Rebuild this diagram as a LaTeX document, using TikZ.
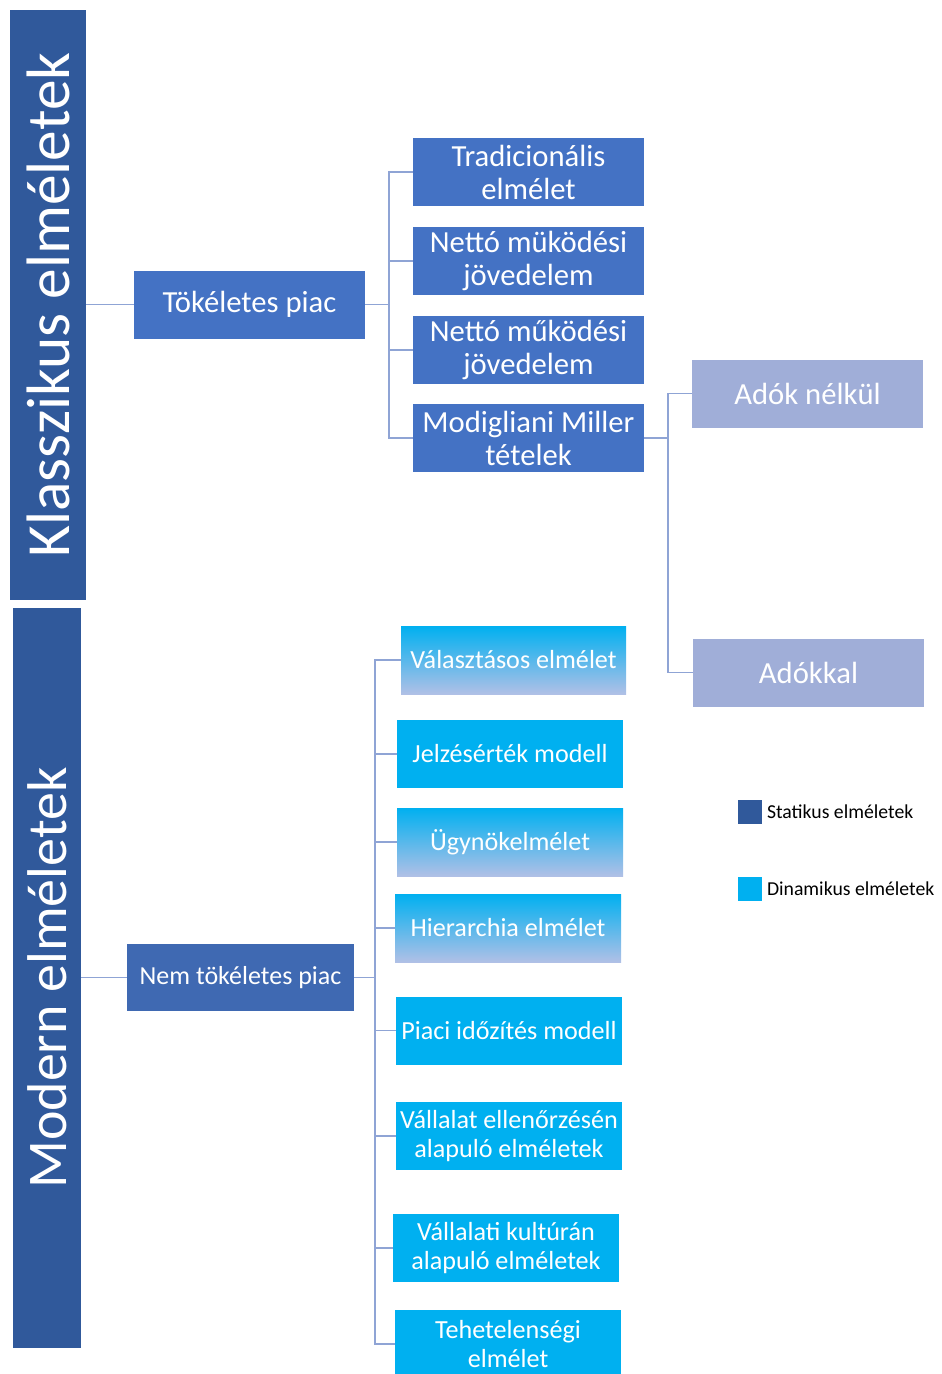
\documentclass[tikz,border=0pt]{standalone}
\usepackage{fontspec}
\setmainfont{Carlito}
\usetikzlibrary{positioning}
\definecolor{barblue}{HTML}{30599B}
\definecolor{statblue}{HTML}{4472C4}
\definecolor{nemblue}{HTML}{3F69B2}
\definecolor{adoblue}{HTML}{A0AED8}
\definecolor{dyncyan}{HTML}{00B0F0}
\definecolor{dynmid}{HTML}{6CC4EE}
\definecolor{dynlav}{HTML}{B0C0E6}
\definecolor{linkblue}{HTML}{8FA4D5}
\begin{document}
\begin{tikzpicture}[x=0.75pt,y=-0.75pt,
    every node/.style={inner sep=0pt, outer sep=0pt},
    bar/.style={fill=barblue, text=white, rotate=90, font=\fontsize{46}{50}\selectfont},
    statbox/.style={fill=statblue, text=white, align=center, minimum width=173.25pt,
      minimum height=51pt, font=\fontsize{23}{24.75}\selectfont},
    adobox/.style={statbox, fill=adoblue},
    dynbox/.style={fill=dyncyan, text=white, align=center, minimum width=169.5pt,
      minimum height=51pt, font=\fontsize{19.6}{22}\selectfont},
    fadebox/.style={dynbox, top color=dyncyan, middle color=dynmid, bottom color=dynlav},
    link/.style={draw=linkblue, line width=1.1pt},
    legsq/.style={minimum width=18pt, minimum height=18pt},
    legtext/.style={font=\fontsize{14.8}{16}\selectfont}]
  \useasboundingbox (0,0) rectangle (942,1374);

  % left bars
  \node[bar, minimum width=442.5pt, minimum height=57pt] (klassz) at (48,305) {Klasszikus elméletek};
  \node[bar, minimum width=555pt, minimum height=51pt, font=\fontsize{42}{46}\selectfont] (modern) at (47,978) {Modern elméletek};

  % static theories
  \node[statbox] (tok) at (249.5,304.5) {Tökéletes piac};
  \node[statbox] (trad) at (528.5,172) {Tradicionális\\elmélet};
  \node[statbox] (netto1) at (528.5,261) {Nettó müködési\\jövedelem};
  \node[statbox] (netto2) at (528.5,350) {Nettó működési\\jövedelem};
  \node[statbox] (mm) at (528.5,438) {Modigliani Miller\\tételek};
  \node[adobox] (nelkul) at (807.5,393.5) {Adók nélkül};
  \node[adobox] (adokkal) at (808.5,672.5) {Adókkal};

  % dynamic theories
  \node[statbox, fill=nemblue, minimum width=170.25pt, minimum height=50.25pt,
    font=\fontsize{19.5}{21}\selectfont] (nem) at (240.5,977.5) {Nem tökéletes piac};
  \node[fadebox, minimum width=168.75pt] (valaszt) at (513.5,660) {Választásos elmélet};
  \node[dynbox] (jelzes) at (510,754) {Jelzésérték modell};
  \node[fadebox] (ugynok) at (510,842) {Ügynökelmélet};
  \node[fadebox] (hier) at (508,928) {Hierarchia elmélet};
  \node[dynbox] (idozit) at (509,1030.5) {Piaci időzítés modell};
  \node[dynbox] (ellen) at (509,1136) {Vállalat ellenőrzésén\\alapuló elméletek};
  \node[dynbox] (kultura) at (506,1248) {Vállalati kultúrán\\alapuló elméletek};
  \node[dynbox] (tehet) at (508,1344) {Tehetelenségi\\elmélet};

  % legend
  \node[legsq, fill=barblue] (lstat) at (750,811.5) {};
  \node[legtext, right=3.75pt of lstat] (lstattxt) {Statikus elméletek};
  \node[legsq, fill=dyncyan] (ldyn) at (750,889) {};
  \node[legtext, right=3.75pt of ldyn] (ldyntxt) {Dinamikus elméletek};

  % connectors
  \draw[link] (klassz.south |- tok.west) -- (tok.west);
  \draw[link] (modern.south |- nem.west) -- (nem.west);
  \foreach \n in {trad,netto1,netto2,mm}
    \draw[link] (tok.east) -- ++(24,0) |- (\n.west);
  \foreach \n in {nelkul,adokkal}
    \draw[link] (mm.east) -- ++(24,0) |- (\n.west);
  \foreach \n in {valaszt,jelzes,ugynok,hier,idozit,ellen,kultura,tehet}
    \draw[link] (nem.east) -- ++(21,0) |- (\n.west);
\end{tikzpicture}
\end{document}
